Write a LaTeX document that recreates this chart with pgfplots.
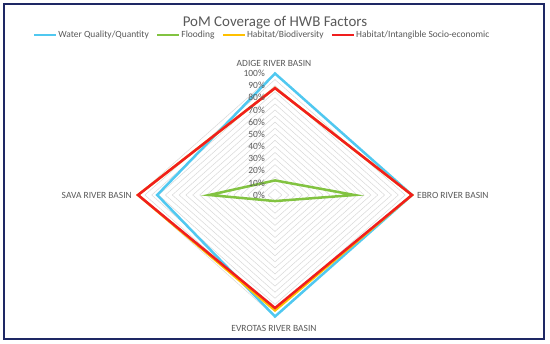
\documentclass[border=0pt]{standalone}
\usepackage{pgfplots}
\pgfplotsset{compat=1.18}
\usepackage{pgfplotstable}
\usepackage{fontspec}
\setmainfont{Carlito}
\definecolor{wqblue}{RGB}{80,200,240}
\definecolor{flgreen}{RGB}{130,195,65}
\definecolor{hbor}{RGB}{255,192,0}
\definecolor{hired}{RGB}{240,30,30}
\definecolor{txt}{RGB}{89,89,89}
\definecolor{gridc}{RGB}{217,217,217}
\definecolor{navy}{RGB}{30,40,100}

\pgfplotstableread{
basin ux uy wq fl hb hi
Adige 0 1 1.00 0.12 0.88 0.88
Ebro 1 0 1.00 0.58 1.00 1.00
Evrotas 0 -1 1.00 0.05 0.95 0.93
Sava -1 0 0.86 0.48 1.00 1.00
Adige 0 1 1.00 0.12 0.88 0.88
Ebro 1 0 1.00 0.58 1.00 1.00
}\datatable

\begin{document}
\begin{tikzpicture}[x=1bp,y=1bp]
\useasboundingbox (0,0) rectangle (550,343);
\fill[white] (0,0) rectangle (550,343);
\def\cx{275}\def\cy{148}\def\rx{137}\def\ry{121.5}
\foreach \k in {1,...,20}{
  \draw[gridc, line width=0.5bp] ({\cx},{\cy+\ry*\k/20}) -- ({\cx+\rx*\k/20},{\cy}) -- ({\cx},{\cy-\ry*\k/20}) -- ({\cx-\rx*\k/20},{\cy}) -- cycle;
}
\begin{axis}[
  at={(\cx bp,\cy bp)}, anchor=center,
  scale only axis, width=274bp, height=243bp,
  axis lines=none, xmin=-1, xmax=1, ymin=-1, ymax=1, clip=false,
  legend columns=4,
  legend style={at={(0.451,1.158)}, anchor=center, draw=none, fill=none,
    font=\fontsize{9.5}{11}\selectfont, text=txt,
    /tikz/every even column/.append style={column sep=6bp},
    nodes={inner sep=1bp}},
  legend image code/.code={\draw[#1, line width=2.5bp] (0bp,0bp) -- (22bp,0bp);},
  every axis plot/.append style={line width=2.5bp, line join=miter, mark=none},
]
\addplot[wqblue] table[x expr=\thisrow{ux}*\thisrow{wq}, y expr=\thisrow{uy}*\thisrow{wq}] {\datatable};
\addlegendentry{Water Quality/Quantity}
\addplot[flgreen] table[x expr=\thisrow{ux}*\thisrow{fl}, y expr=\thisrow{uy}*\thisrow{fl}] {\datatable};
\addlegendentry{Flooding}
\addplot[hbor] table[x expr=\thisrow{ux}*\thisrow{hb}, y expr=\thisrow{uy}*\thisrow{hb}] {\datatable};
\addlegendentry{Habitat/Biodiversity}
\addplot[hired] table[x expr=\thisrow{ux}*\thisrow{hi}, y expr=\thisrow{uy}*\thisrow{hi}] {\datatable};
\addlegendentry{Habitat/Intangible Socio-economic}
\end{axis}
\foreach \k in {0,...,10}{
  \pgfmathtruncatemacro{\lab}{10*\k}
  \node[anchor=east, text=txt, font=\fontsize{9.5}{11}\selectfont, inner sep=0pt] at (265,{\cy+\ry*\k/10}) {\lab\%};
}
\node[text=txt, font=\fontsize{9.5}{11}\selectfont] at (274,280) {ADIGE RIVER BASIN};
\node[anchor=west, text=txt, font=\fontsize{9.5}{11}\selectfont, inner sep=0pt] at (417,148) {EBRO RIVER BASIN};
\node[text=txt, font=\fontsize{9.5}{11}\selectfont] at (274,15) {EVROTAS RIVER BASIN};
\node[anchor=east, text=txt, font=\fontsize{9.5}{11}\selectfont, inner sep=0pt] at (132,148) {SAVA RIVER BASIN};
\node[text=txt, font=\fontsize{15}{17}\selectfont] at (275,320) {PoM Coverage of HWB Factors};
\draw[navy, line width=2.5bp] (4,4) rectangle (544,339);
\end{tikzpicture}
\end{document}
